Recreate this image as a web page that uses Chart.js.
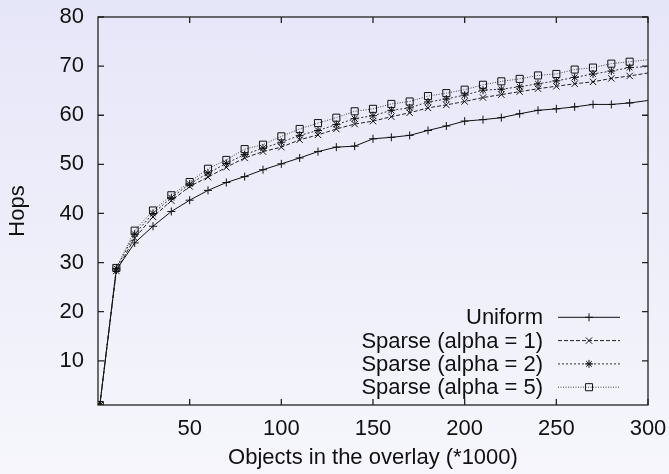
<!DOCTYPE html>
<html>
<head>
<meta charset="utf-8">
<script src="https://cdn.jsdelivr.net/npm/chart.js@4.4.1/dist/chart.umd.min.js"></script>
<style>
html,body{margin:0;padding:0;}
body{width:669px;height:474px;overflow:hidden;}
#c{display:block;background:linear-gradient(to bottom,#e6e6f9 0%,#eeeefa 50%,#f6f6fc 100%);}
</style>
</head>
<body>
<canvas id="c" width="669" height="474"></canvas>
<script>
// ---- data ----
const objectsK = [1,10,20,30,40,50,60,70,80,90,100,110,120,130,140,150,160,170,180,190,200,210,220,230,240,250,260,270,280,290,300];
const uniform  = [1,28.5,34.0,37.4,40.4,42.7,44.7,46.3,47.5,48.9,50.1,51.3,52.6,53.5,53.7,55.2,55.5,55.9,56.9,57.8,58.8,59.1,59.5,60.3,61.0,61.3,61.7,62.2,62.2,62.5,63.0];
const sparse1  = [1,28.3,35.0,39.3,42.6,45.5,47.4,49.4,51.3,52.6,53.5,55.0,56.0,57.2,58.2,58.8,59.7,60.5,61.5,62.1,62.8,63.6,64.2,64.8,65.4,65.9,66.4,66.8,67.5,68.0,68.6];
const sparse2  = [1,28.8,35.8,40.0,43.2,46.0,48.2,50.2,52.0,53.3,54.5,55.9,56.9,58.1,59.3,59.9,61.0,61.5,62.7,63.3,64.1,65.1,65.3,65.8,66.4,67.0,67.7,68.4,69.0,69.7,69.9];
const sparse5  = [1,28.9,36.5,40.6,43.7,46.4,49.1,50.9,53.1,54.0,55.7,57.2,58.4,59.5,60.8,61.3,62.3,62.8,63.9,64.5,65.2,66.2,66.9,67.4,68.1,68.4,69.3,69.7,70.5,70.9,71.3];
const seriesNames = ['Uniform','Sparse (alpha = 1)','Sparse (alpha = 2)','Sparse (alpha = 5)'];
const xTickValues = [50,100,150,200,250,300];
const yTickValues = [10,20,30,40,50,60,70,80];
const xTitle = 'Objects in the overlay (*1000)';
const yTitle = 'Hops';

const FONT = '"Liberation Sans", Arial, Helvetica, sans-serif';
const styles = [
  {color:'#111', dash:[], point:'cross', r:4, lw:1},
  {color:'#222', dash:[4,2], point:'crossRot', r:4.5, lw:1},
  {color:'#333', dash:[2,2], point:'star', r:4, lw:1},
  {color:'#444', dash:[1,1.5], point:'rect', r:5, lw:1}
];
const allSeries = [uniform, sparse1, sparse2, sparse5];

const datasets = allSeries.map((vals,i)=>({
  label: seriesNames[i],
  data: objectsK.map((x,j)=>({x:x, y:vals[j]})),
  borderColor: styles[i].color,
  borderWidth: styles[i].lw,
  borderDash: styles[i].dash,
  pointStyle: styles[i].point,
  pointRadius: ctx => (ctx.raw && ctx.raw.x >= 300) ? 0 : styles[i].r,
  pointBorderColor: '#111',
  pointBackgroundColor: 'rgba(0,0,0,0)',
  pointBorderWidth: 1,
  fill: false,
  tension: 0
}));

const framePlugin = {
  id: 'frame',
  afterDraw(chart) {
    const {ctx, chartArea: a, scales} = chart;
    ctx.save();
    ctx.strokeStyle = '#222';
    ctx.lineWidth = 1.3;
    ctx.setLineDash([]);
    ctx.beginPath();
    const tl = 6;
    xTickValues.forEach(v => {
      const px = scales.x.getPixelForValue(v);
      ctx.moveTo(px, a.bottom); ctx.lineTo(px, a.bottom - tl);
      ctx.moveTo(px, a.top); ctx.lineTo(px, a.top + tl);
    });
    yTickValues.forEach(v => {
      const py = scales.y.getPixelForValue(v);
      ctx.moveTo(a.left, py); ctx.lineTo(a.left + tl, py);
      ctx.moveTo(a.right, py); ctx.lineTo(a.right - tl, py);
    });
    ctx.stroke();
    ctx.strokeRect(a.left, a.top, a.right - a.left, a.bottom - a.top);
    // legend (gnuplot style, inside bottom-right)
    const rowsY = [317.3, 340.6, 363.9, 387.2];
    ctx.font = '22px ' + FONT;
    ctx.textAlign = 'right';
    ctx.textBaseline = 'middle';
    seriesNames.forEach((name, i) => {
      const y = rowsY[i];
      ctx.fillStyle = '#111';
      ctx.fillText(name, 543, y + 1);
      ctx.strokeStyle = styles[i].color;
      ctx.lineWidth = 1;
      ctx.setLineDash(styles[i].dash);
      ctx.beginPath();
      ctx.moveTo(558, y); ctx.lineTo(620, y);
      ctx.stroke();
      ctx.setLineDash([]);
      ctx.strokeStyle = '#111';
      ctx.fillStyle = 'rgba(0,0,0,0)';
      Chart.helpers.drawPoint(ctx, {pointStyle: styles[i].point, radius: styles[i].r, borderWidth: 1}, 589, y);
    });
    ctx.restore();
  }
};

new Chart(document.getElementById('c'), {
  type: 'line',
  data: {datasets},
  plugins: [framePlugin],
  options: {
    responsive: false,
    devicePixelRatio: 1,
    animation: false,
    layout: {padding: {left: 0, right: 21, top: 17, bottom: 0}},
    plugins: {legend: {display: false}, tooltip: {enabled: false}},
    scales: {
      x: {
        type: 'linear', min: 0, max: 300,
        afterBuildTicks: s => { s.ticks = xTickValues.map(v => ({value: v})); },
        afterFit: s => { s.height = 69; s.paddingLeft = 0; s.paddingRight = 0; },
        grid: {display: false, drawTicks: false},
        border: {display: false},
        ticks: {color: '#111', font: {family: FONT, size: 22}, padding: 11, maxRotation: 0, autoSkip: false},
        title: {display: true, text: xTitle, color: '#111', font: {family: FONT, size: 22}, padding: {top: 0, bottom: 3}}
      },
      y: {
        type: 'linear', min: 1, max: 80,
        afterBuildTicks: s => { s.ticks = yTickValues.map(v => ({value: v})); },
        afterFit: s => { s.width = 98; s.paddingTop = 0; s.paddingBottom = 0; },
        grid: {display: false, drawTicks: false},
        border: {display: false},
        ticks: {color: '#111', font: {family: FONT, size: 22}, padding: 14, autoSkip: false},
        title: {display: true, text: yTitle, color: '#111', font: {family: FONT, size: 22}, padding: {top: 5, bottom: 4}}
      }
    }
  }
});
</script>
</body>
</html>
